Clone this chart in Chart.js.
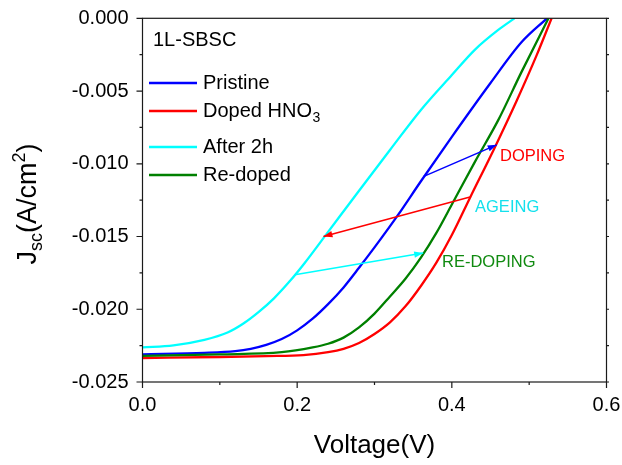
<!DOCTYPE html>
<html>
<head>
<meta charset="utf-8">
<script src="https://cdn.jsdelivr.net/npm/chart.js@4/dist/chart.umd.min.js"></script>
<style>
  html, body { margin: 0; padding: 0; background: #ffffff; }
  #wrap { width: 622px; height: 465px; }
</style>
</head>
<body>
<div id="wrap"><canvas id="chart" width="622" height="465"></canvas></div>
<script>
const FONT = '"Liberation Sans", Arial, Helvetica, sans-serif';

// J-V curves: voltage (V) and short-circuit current density (A/cm²)
const pristineV = [0.000, 0.080, 0.120, 0.140, 0.160, 0.180, 0.200, 0.220, 0.240, 0.260, 0.280, 0.300, 0.330, 0.360, 0.400, 0.450, 0.490, 0.523];
const pristineJ = [-0.02310, -0.02300, -0.02288, -0.02272, -0.02245, -0.02205, -0.02145, -0.02065, -0.01965, -0.01850, -0.01715, -0.01575, -0.01355, -0.01120, -0.00815, -0.00445, -0.00165, 0.0];

const dopedV = [0.000, 0.100, 0.160, 0.208, 0.240, 0.260, 0.280, 0.300, 0.320, 0.340, 0.360, 0.380, 0.400, 0.424, 0.454, 0.484, 0.510, 0.529];
const dopedJ = [-0.02335, -0.02328, -0.02322, -0.02315, -0.02295, -0.02272, -0.02232, -0.02170, -0.02090, -0.01980, -0.01840, -0.01680, -0.01490, -0.01228, -0.00905, -0.00565, -0.00250, 0.0];

const agedV = [0.000, 0.040, 0.080, 0.110, 0.130, 0.150, 0.170, 0.190, 0.210, 0.240, 0.280, 0.320, 0.360, 0.400, 0.430, 0.460, 0.481];
const agedJ = [-0.02262, -0.02248, -0.02210, -0.02160, -0.02100, -0.02020, -0.01925, -0.01810, -0.01680, -0.01468, -0.01185, -0.00905, -0.00630, -0.00390, -0.00215, -0.00080, 0.0];

const redopedV = [0.000, 0.100, 0.180, 0.220, 0.240, 0.260, 0.280, 0.300, 0.320, 0.340, 0.360, 0.380, 0.400, 0.430, 0.460, 0.490, 0.525];
const redopedJ = [-0.02320, -0.02310, -0.02295, -0.02262, -0.02237, -0.02195, -0.02125, -0.02030, -0.01912, -0.01790, -0.01645, -0.01475, -0.01280, -0.00985, -0.00700, -0.00370, 0.0];

// Legend names (main text + subscript part)
const seriesNames = ['Pristine', 'Doped HNO', 'After 2h', 'Re-doped'];
const seriesSubs = ['', '3', '', ''];
const seriesColors = ['#0000ff', '#ff0000', '#00ffff', '#008000'];
const sampleName = '1L-SBSC';

// Transition arrows: [start V, end V], [start J, end J]
const dopingArrowV = [0.363, 0.458];
const dopingArrowJ = [-0.01088, -0.00870];
const ageingArrowV = [0.4235, 0.234];
const ageingArrowJ = [-0.01228, -0.01500];
const redopingArrowV = [0.197, 0.363];
const redopingArrowJ = [-0.01763, -0.01614];

// Arrow captions: text, anchor V, anchor J
const captionTexts = ['DOPING', 'AGEING', 'RE-DOPING'];
const captionV = [0.4623, 0.4300, 0.3873];
const captionJ = [-0.00950, -0.01302, -0.01679];
const captionColors = ['#ff0000', '#14e0ec', '#108a10'];

// Axis ticks
const xMajorTicks = [0.0, 0.2, 0.4, 0.6];
const xMinorTicks = [0.1, 0.3, 0.5];
const yMajorTicks = [0.000, -0.005, -0.010, -0.015, -0.020, -0.025];
const yMinorTicks = [-0.0025, -0.0075, -0.0125, -0.0175, -0.0225];

const xTitle = 'Voltage(V)';

const toPoints = (vs, js) => vs.map((v, i) => ({ x: v, y: js[i] }));

function curve(label, vs, js, color, order) {
  return {
    label, data: toPoints(vs, js), showLine: true, borderColor: color, backgroundColor: color,
    borderWidth: 2.3, pointRadius: 0, cubicInterpolationMode: 'monotone', fill: false, order
  };
}
function arrow(vs, js, color) {
  return {
    label: '', data: toPoints(vs, js), showLine: true, borderColor: color, backgroundColor: color,
    borderWidth: 1.5, pointRadius: 0, tension: 0, fill: false, order: 0, isArrow: true
  };
}

// Box frame with outward major/minor ticks
const frameAndTicks = {
  id: 'frameAndTicks',
  afterDatasetsDraw(chart) {
    const { ctx, chartArea: a, scales: { x, y } } = chart;
    ctx.save();
    ctx.strokeStyle = '#1a1a1a';
    ctx.lineWidth = 1.2;
    ctx.strokeRect(a.left, a.top, a.right - a.left, a.bottom - a.top);
    ctx.beginPath();
    xMajorTicks.forEach(v => { const p = x.getPixelForValue(v); ctx.moveTo(p, a.bottom); ctx.lineTo(p, a.bottom + 6); });
    xMinorTicks.forEach(v => { const p = x.getPixelForValue(v); ctx.moveTo(p, a.bottom); ctx.lineTo(p, a.bottom + 3); });
    yMajorTicks.forEach(v => {
      const p = y.getPixelForValue(v);
      ctx.moveTo(a.left, p); ctx.lineTo(a.left - 6, p);
      ctx.moveTo(a.right, p); ctx.lineTo(a.right + 2.5, p);
    });
    yMinorTicks.forEach(v => {
      const p = y.getPixelForValue(v);
      ctx.moveTo(a.left, p); ctx.lineTo(a.left - 3, p);
      ctx.moveTo(a.right, p); ctx.lineTo(a.right + 2.5, p);
    });
    ctx.stroke();
    ctx.restore();
  }
};

// Filled heads at the end point of each arrow dataset
const arrowHeads = {
  id: 'arrowHeads',
  afterDatasetsDraw(chart) {
    const ctx = chart.ctx;
    chart.data.datasets.forEach((ds, i) => {
      if (!ds.isArrow) return;
      const pts = chart.getDatasetMeta(i).data;
      const p0 = pts[0], p1 = pts[pts.length - 1];
      const ang = Math.atan2(p1.y - p0.y, p1.x - p0.x);
      const L = 9, W = 3.2;
      const c = Math.cos(ang), s = Math.sin(ang);
      ctx.save();
      ctx.fillStyle = ds.borderColor;
      ctx.beginPath();
      ctx.moveTo(p1.x, p1.y);
      ctx.lineTo(p1.x - L * c + W * s, p1.y - L * s - W * c);
      ctx.lineTo(p1.x - L * c - W * s, p1.y - L * s + W * c);
      ctx.closePath();
      ctx.fill();
      ctx.restore();
    });
  }
};

// Sample name, legend, captions and the y-axis title
const labels = {
  id: 'labels',
  afterDraw(chart) {
    const { ctx, scales: { x, y } } = chart;
    ctx.save();
    ctx.textBaseline = 'middle';
    ctx.textAlign = 'left';

    ctx.fillStyle = '#000';
    ctx.font = '20px ' + FONT;
    ctx.fillText(sampleName, 153, 40.5);

    const rowY = [83, 111, 147, 175];
    seriesNames.forEach((name, i) => {
      ctx.strokeStyle = seriesColors[i];
      ctx.lineWidth = 2.3;
      ctx.beginPath();
      ctx.moveTo(149, rowY[i]);
      ctx.lineTo(197, rowY[i]);
      ctx.stroke();
      ctx.fillStyle = '#000';
      ctx.font = '20px ' + FONT;
      ctx.fillText(name, 203, rowY[i]);
      if (seriesSubs[i]) {
        const w = ctx.measureText(name).width;
        ctx.font = '14px ' + FONT;
        ctx.fillText(seriesSubs[i], 203 + w + 0.5, rowY[i] + 7);
      }
    });

    ctx.font = '16.5px ' + FONT;
    captionTexts.forEach((t, i) => {
      ctx.fillStyle = captionColors[i];
      ctx.fillText(t, x.getPixelForValue(captionV[i]), y.getPixelForValue(captionJ[i]));
    });

    // y-axis title: J_sc(A/cm^2)
    const parts = [
      { t: 'J', size: 27, dy: 0 },
      { t: 'sc', size: 18, dy: 6 },
      { t: '(A/cm', size: 27, dy: 0 },
      { t: '2', size: 18, dy: -11 },
      { t: ')', size: 27, dy: 0 }
    ];
    let total = 0;
    parts.forEach(p => { ctx.font = p.size + 'px ' + FONT; p.w = ctx.measureText(p.t).width; total += p.w; });
    ctx.translate(36, 204);
    ctx.rotate(-Math.PI / 2);
    ctx.textBaseline = 'alphabetic';
    ctx.fillStyle = '#000';
    let cx = -total / 2;
    parts.forEach(p => {
      ctx.font = p.size + 'px ' + FONT;
      ctx.fillText(p.t, cx, p.dy);
      cx += p.w;
    });
    ctx.restore();
  }
};

new Chart(document.getElementById('chart'), {
  type: 'scatter',
  data: {
    datasets: [
      arrow(dopingArrowV, dopingArrowJ, '#0000ff'),
      arrow(ageingArrowV, ageingArrowJ, '#ff0000'),
      arrow(redopingArrowV, redopingArrowJ, '#00ffff'),
      curve(seriesNames[0], pristineV, pristineJ, seriesColors[0], 4),
      curve(seriesNames[1] + seriesSubs[1], dopedV, dopedJ, seriesColors[1], 3),
      curve(seriesNames[2], agedV, agedJ, seriesColors[2], 2),
      curve(seriesNames[3], redopedV, redopedJ, seriesColors[3], 1)
    ]
  },
  options: {
    responsive: false,
    animation: false,
    devicePixelRatio: 1,
    layout: { padding: { top: 18.3, right: 15.5, bottom: 0, left: 0 } },
    plugins: { legend: { display: false }, tooltip: { enabled: false } },
    scales: {
      x: {
        type: 'linear', min: 0, max: 0.6,
        afterBuildTicks: s => { s.ticks = xMajorTicks.map(v => ({ value: v })); },
        afterFit: s => { s.height = 83; s.paddingLeft = 0; s.paddingRight = 0; },
        grid: { display: false, drawTicks: false },
        border: { display: false },
        ticks: {
          color: '#000', padding: 11, maxRotation: 0, autoSkip: false,
          font: { family: FONT, size: 20 },
          callback: v => Number(v).toFixed(1)
        },
        title: {
          display: true, text: xTitle, color: '#000',
          font: { family: FONT, size: 26 }, padding: { top: 0, bottom: 4 }
        }
      },
      y: {
        type: 'linear', min: -0.025, max: 0,
        afterBuildTicks: s => { s.ticks = yMajorTicks.map(v => ({ value: v })); },
        afterFit: s => { s.width = 142.5; s.paddingTop = 0; s.paddingBottom = 0; },
        grid: { display: false, drawTicks: false },
        border: { display: false },
        ticks: {
          color: '#000', padding: 14, autoSkip: false,
          font: { family: FONT, size: 20 },
          callback: v => Math.abs(v) < 1e-9 ? '0.000' : Number(v).toFixed(3)
        }
      }
    }
  },
  plugins: [frameAndTicks, arrowHeads, labels]
});
</script>
</body>
</html>
